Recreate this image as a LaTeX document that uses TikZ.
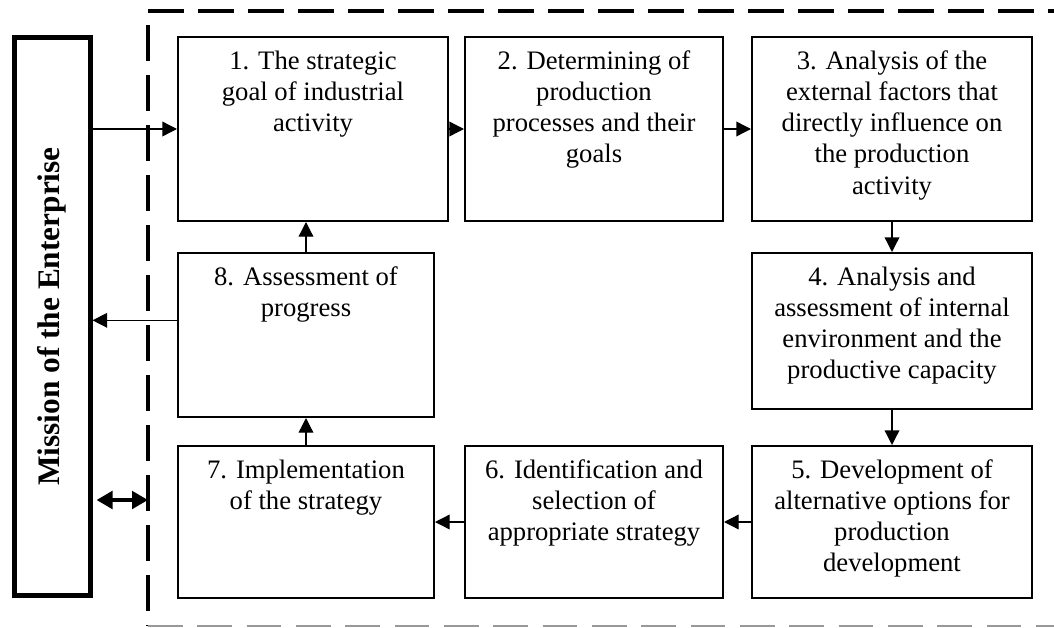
\documentclass[tikz,border=0pt]{standalone}
\usepackage{fontspec}
\setmainfont{Liberation Serif}
\usetikzlibrary{arrows.meta}

% text of a stage box: fixed size, lines set from the top
\newcommand{\stagetext}[3]{\parbox[c][#2][t]{#1}{\centering\vspace*{10.5pt}#3\par}}

\tikzset{
  stage/.style={draw=black,line width=1.5pt,inner sep=0pt,
    font=\fontsize{20}{23.3}\selectfont},
  mission box/.style={draw=black,line width=3.75pt,inner sep=0pt,
    minimum width=57pt,minimum height=419pt},
  mission text/.style={rotate=90,font=\fontsize{23.5}{28}\selectfont\bfseries},
  flow/.style={-{Triangle[length=11pt,width=11pt]},line width=1pt},
  link/.style={{Triangle[length=12pt,width=13pt]}-{Triangle[length=12pt,width=13pt]},
    line width=3.5pt},
  frame edge/.style={line width=3pt,dash pattern=on 27pt off 10.5pt},
  frame base/.style={line width=1pt,draw=black!40,dash pattern=on 26pt off 11pt}
}

\begin{document}
\begin{tikzpicture}[x=0.75pt,y=-0.75pt]
  \useasboundingbox (0,0) rectangle (1054,628);

  % dashed frame of the cycle
  \coordinate (frame nw) at (148,11);
  \coordinate (frame ne) at (1054,11);
  \coordinate (frame sw) at (148,626);
  \coordinate (frame se) at (1054,626);
  \draw[frame edge] (frame nw) -- (frame ne);
  \draw[frame edge,dash phase=27pt] (frame nw) -- (frame sw);
  \draw[frame base] (frame sw) -- (frame se);

  \node[mission box] (mission) at (52,316.5) {};
  \node[mission text] (mission label) at (mission) {Mission of the Enterprise};

  % stages, clockwise from the top left
  \node[stage] (b1) at (313,129) {\stagetext{202.5pt}{138pt}{1. The strategic\\goal of industrial\\activity}};
  \node[stage] (b2) at (594,129) {\stagetext{193.5pt}{138pt}{2. Determining of\\production\\processes and their\\goals}};
  \node[stage] (b3) at (892,129) {\stagetext{210pt}{138pt}{3. Analysis of the\\external factors that\\directly influence on\\the production\\activity}};
  \node[stage] (b4) at (892,331) {\stagetext{210pt}{117pt}{4. Analysis and\\assessment of internal\\environment and the\\productive capacity}};
  \node[stage] (b5) at (892,522) {\stagetext{210pt}{114pt}{5. Development of\\alternative options for\\production\\development}};
  \node[stage] (b6) at (594,522) {\stagetext{193.5pt}{114pt}{6. Identification and\\selection of\\appropriate strategy}};
  \node[stage] (b7) at (306,522) {\stagetext{192pt}{114pt}{7. Implementation\\of the strategy}};
  \node[stage] (b8) at (306,335) {\stagetext{192pt}{123pt}{8. Assessment of\\progress}};

  \draw[flow] (mission.east |- b1.west) -- (b1.west);
  \draw[flow] (b1.east) -- (b2.west);
  \draw[flow] (b2.east) -- (b3.west);
  \draw[flow] (b3.south) -- (b4.north);
  \draw[flow] (b4.south) -- (b5.north);
  \draw[flow] (b5.west) -- (b6.east);
  \draw[flow] (b6.west) -- (b7.east);
  \draw[flow] (b7.north) -- (b8.south);
  \draw[flow] (b8.north) -- (b8.north |- b1.south);

  % feedback to the mission
  \coordinate (report) at ([yshift=11pt]b8.west);
  \draw[flow] (report) -- (mission.east |- report);

  \path (mission.east |- 0,500) ++(4,0) coordinate (link a);
  \draw[link] (link a) -- (frame nw |- link a);
\end{tikzpicture}
\end{document}
